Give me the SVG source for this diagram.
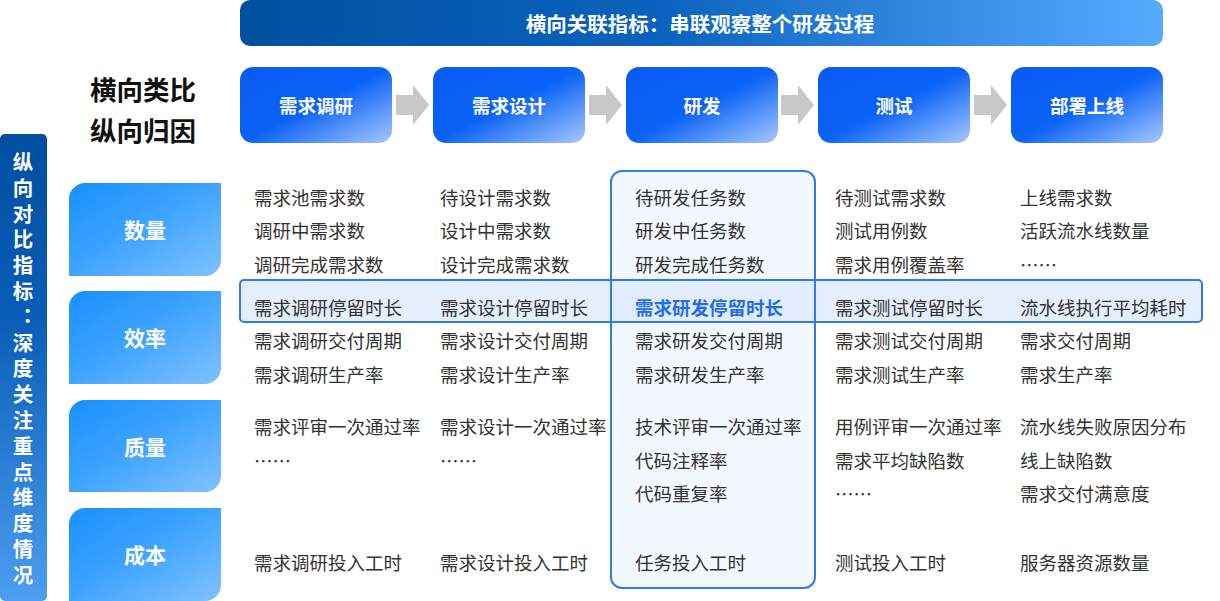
<svg xmlns="http://www.w3.org/2000/svg" width="1220" height="601" viewBox="0 0 1220 601">
<defs>
<linearGradient id="gBanner" x1="0" y1="0" x2="1" y2="0">
<stop offset="0" stop-color="#00509F"/>
<stop offset="0.45" stop-color="#0B62BE"/>
<stop offset="1" stop-color="#56ABFF"/>
</linearGradient>
<linearGradient id="gStage" x1="0" y1="0" x2="1" y2="1">
<stop offset="0" stop-color="#0A5BF0"/>
<stop offset="0.5" stop-color="#0A62F6"/>
<stop offset="1" stop-color="#A6C9FF"/>
</linearGradient>
<linearGradient id="gDim" x1="0" y1="0" x2="1" y2="1">
<stop offset="0" stop-color="#1890FF"/>
<stop offset="0.45" stop-color="#3BA2FF"/>
<stop offset="1" stop-color="#80C2FF"/>
</linearGradient>
<linearGradient id="gBar" x1="0" y1="0" x2="0" y2="1">
<stop offset="0" stop-color="#004FA0"/>
<stop offset="0.4" stop-color="#0A5EB8"/>
<stop offset="1" stop-color="#4B9EF2"/>
</linearGradient>
<polygon id="arrow" points="0,10 17,10 17,0 33,20 17,40 17,30 0,30" fill="#C8C8C8"/>
</defs>
<style>
.cn{font-family:"Noto Sans CJK SC","Noto Sans",sans-serif;}
.cell{font-size:18.5px;fill:#333333;dominant-baseline:central;}
.hl{font-size:18.5px;fill:#1F6FEB;font-weight:bold;dominant-baseline:central;}
.stage{font-size:18.5px;fill:#FFFFFF;font-weight:bold;text-anchor:middle;dominant-baseline:central;}
.dim{font-size:21px;fill:#FFFFFF;font-weight:bold;text-anchor:middle;dominant-baseline:central;}
.bar{font-size:20.5px;fill:#FFFFFF;font-weight:bold;writing-mode:vertical-rl;text-orientation:upright;letter-spacing:5.3px;}
.title{font-size:26.5px;fill:#111111;font-weight:bold;dominant-baseline:central;}
.banner{font-size:20.5px;fill:#FFFFFF;font-weight:bold;text-anchor:middle;dominant-baseline:central;}
.frame{fill:none;stroke:#2E7BF0;stroke-width:2;}
</style>
<rect width="1220" height="601" fill="#FFFFFF"/>

<!-- highlight backgrounds -->
<g id="highlights">
<rect x="611" y="171" width="204" height="417" rx="11" fill="#F3F8FE"/>
<rect x="240" y="280" width="962" height="42" rx="4" fill="#DCE8FC" fill-opacity="0.75"/>
<rect class="frame" x="611" y="171" width="204" height="417" rx="11"/>
<rect class="frame" x="240" y="280" width="962" height="42" rx="4"/>
</g>

<!-- banner -->
<g id="banner">
<rect x="240" y="0" width="923" height="46" rx="10" fill="url(#gBanner)"/>
<text class="cn banner" x="700" y="23">横向关联指标：串联观察整个研发过程</text>
</g>

<!-- title -->
<g id="title">
<text class="cn title" x="90" y="88">横向类比</text>
<text class="cn title" x="90" y="129">纵向归因</text>
</g>

<!-- left bar -->
<g id="leftbar">
<rect x="0" y="134" width="47" height="467" rx="5" fill="url(#gBar)"/>
<text class="cn bar" x="23" y="152">纵向对比指标：深度关注重点维度情况</text>
</g>

<!-- stages -->
<g id="stage-research">
<rect x="240" y="67" width="152" height="76" rx="13" fill="url(#gStage)"/>
<text class="cn stage" x="316" y="105">需求调研</text>
</g>
<g id="stage-design">
<rect x="433" y="67" width="152" height="76" rx="13" fill="url(#gStage)"/>
<text class="cn stage" x="509" y="105">需求设计</text>
</g>
<g id="stage-dev">
<rect x="626" y="67" width="152" height="76" rx="13" fill="url(#gStage)"/>
<text class="cn stage" x="702" y="105">研发</text>
</g>
<g id="stage-test">
<rect x="818" y="67" width="152" height="76" rx="13" fill="url(#gStage)"/>
<text class="cn stage" x="894" y="105">测试</text>
</g>
<g id="stage-deploy">
<rect x="1011" y="67" width="152" height="76" rx="13" fill="url(#gStage)"/>
<text class="cn stage" x="1087" y="105">部署上线</text>
</g>

<!-- connectors -->
<g id="connectors">
<use href="#arrow" x="396" y="85"/>
<use href="#arrow" x="589" y="85"/>
<use href="#arrow" x="781" y="85"/>
<use href="#arrow" x="974" y="85"/>
</g>

<!-- dimensions -->
<g id="dim-quantity">
<path d="M69 199 A16 16 0 0 1 85 183 H221 V260 A16 16 0 0 1 205 276 H69 Z" fill="url(#gDim)"/>
<text class="cn dim" x="145" y="229">数量</text>
</g>
<g id="dim-efficiency">
<path d="M69 307 A16 16 0 0 1 85 291 H221 V368 A16 16 0 0 1 205 384 H69 Z" fill="url(#gDim)"/>
<text class="cn dim" x="145" y="337">效率</text>
</g>
<g id="dim-quality">
<path d="M69 416 A16 16 0 0 1 85 400 H221 V476 A16 16 0 0 1 205 492 H69 Z" fill="url(#gDim)"/>
<text class="cn dim" x="145" y="446">质量</text>
</g>
<g id="dim-cost">
<path d="M69 524 A16 16 0 0 1 85 508 H221 V585 A16 16 0 0 1 205 601 H69 Z" fill="url(#gDim)"/>
<text class="cn dim" x="145" y="554">成本</text>
</g>

<!-- cells -->
<g id="col-research" class="cn">
<text class="cell" x="254" y="197">需求池需求数</text>
<text class="cell" x="254" y="230">调研中需求数</text>
<text class="cell" x="254" y="264">调研完成需求数</text>
<text class="cell" x="254" y="307">需求调研停留时长</text>
<text class="cell" x="254" y="340">需求调研交付周期</text>
<text class="cell" x="254" y="374">需求调研生产率</text>
<text class="cell" x="254" y="426">需求评审一次通过率</text>
<text class="cell" x="254" y="460">……</text>
<text class="cell" x="254" y="562">需求调研投入工时</text>
</g>
<g id="col-design" class="cn">
<text class="cell" x="440" y="197">待设计需求数</text>
<text class="cell" x="440" y="230">设计中需求数</text>
<text class="cell" x="440" y="264">设计完成需求数</text>
<text class="cell" x="440" y="307">需求设计停留时长</text>
<text class="cell" x="440" y="340">需求设计交付周期</text>
<text class="cell" x="440" y="374">需求设计生产率</text>
<text class="cell" x="440" y="426">需求设计一次通过率</text>
<text class="cell" x="440" y="460">……</text>
<text class="cell" x="440" y="562">需求设计投入工时</text>
</g>
<g id="col-dev" class="cn">
<text class="cell" x="635" y="197">待研发任务数</text>
<text class="cell" x="635" y="230">研发中任务数</text>
<text class="cell" x="635" y="264">研发完成任务数</text>
<text class="hl" x="635" y="307">需求研发停留时长</text>
<text class="cell" x="635" y="340">需求研发交付周期</text>
<text class="cell" x="635" y="374">需求研发生产率</text>
<text class="cell" x="635" y="426">技术评审一次通过率</text>
<text class="cell" x="635" y="460">代码注释率</text>
<text class="cell" x="635" y="493">代码重复率</text>
<text class="cell" x="635" y="562">任务投入工时</text>
</g>
<g id="col-test" class="cn">
<text class="cell" x="835" y="197">待测试需求数</text>
<text class="cell" x="835" y="230">测试用例数</text>
<text class="cell" x="835" y="264">需求用例覆盖率</text>
<text class="cell" x="835" y="307">需求测试停留时长</text>
<text class="cell" x="835" y="340">需求测试交付周期</text>
<text class="cell" x="835" y="374">需求测试生产率</text>
<text class="cell" x="835" y="426">用例评审一次通过率</text>
<text class="cell" x="835" y="460">需求平均缺陷数</text>
<text class="cell" x="835" y="493">……</text>
<text class="cell" x="835" y="562">测试投入工时</text>
</g>
<g id="col-deploy" class="cn">
<text class="cell" x="1020" y="197">上线需求数</text>
<text class="cell" x="1020" y="230">活跃流水线数量</text>
<text class="cell" x="1020" y="264">……</text>
<text class="cell" x="1020" y="307">流水线执行平均耗时</text>
<text class="cell" x="1020" y="340">需求交付周期</text>
<text class="cell" x="1020" y="374">需求生产率</text>
<text class="cell" x="1020" y="426">流水线失败原因分布</text>
<text class="cell" x="1020" y="460">线上缺陷数</text>
<text class="cell" x="1020" y="493">需求交付满意度</text>
<text class="cell" x="1020" y="562">服务器资源数量</text>
</g>
</svg>
